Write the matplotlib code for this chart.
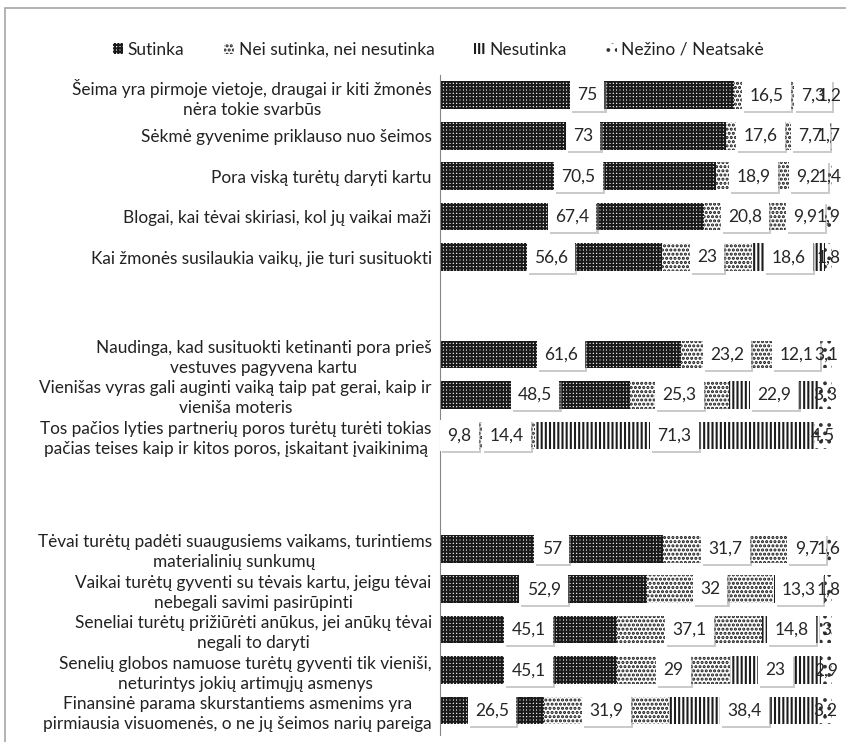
import matplotlib
matplotlib.use('Agg')
import matplotlib.pyplot as plt
import matplotlib.patheffects as pe
from matplotlib.patches import Patch, Rectangle

plt.rcParams['font.family'] = ['Lato', 'DejaVu Sans']
plt.rcParams['hatch.linewidth'] = 1.5

# duomenys (%)
categories = [
    "Šeima yra pirmoje vietoje, draugai ir kiti žmonės\nnėra tokie svarbūs",
    "Sėkmė gyvenime priklauso nuo šeimos",
    "Pora viską turėtų daryti kartu",
    "Blogai, kai tėvai skiriasi, kol jų vaikai maži",
    "Kai žmonės susilaukia vaikų, jie turi susituokti",
    "Naudinga, kad susituokti ketinanti pora prieš\nvestuves pagyvena kartu",
    "Vienišas vyras gali auginti vaiką taip pat gerai, kaip ir\nvieniša moteris",
    "Tos pačios lyties partnerių poros turėtų turėti tokias\npačias teises kaip ir kitos poros, įskaitant įvaikinimą",
    "Tėvai turėtų padėti suaugusiems vaikams, turintiems\nmaterialinių sunkumų",
    "Vaikai turėtų gyventi su tėvais kartu, jeigu tėvai\nnebegali savimi pasirūpinti",
    "Seneliai turėtų prižiūrėti anūkus, jei anūkų tėvai\nnegali to daryti",
    "Senelių globos namuose turėtų gyventi tik vieniši,\nneturintys jokių artimųjų asmenys",
    "Finansinė parama skurstantiems asmenims yra\npirmiausia visuomenės, o ne jų šeimos narių pareiga",
]
group_sizes = [5, 3, 5]

sutinka = [75, 73, 70.5, 67.4, 56.6, 61.6, 48.5, 9.8, 57, 52.9, 45.1, 45.1, 26.5]
nei = [16.5, 17.6, 18.9, 20.8, 23, 23.2, 25.3, 14.4, 31.7, 32, 37.1, 29, 31.9]
nesutinka = [7.3, 7.7, 9.2, 9.9, 18.6, 12.1, 22.9, 71.3, 9.7, 13.3, 14.8, 23, 38.4]
nezino = [1.2, 1.7, 1.4, 1.9, 1.8, 3.1, 3.3, 4.5, 1.6, 1.8, 3, 2.9, 3.2]

series_names = ['Sutinka', 'Nei sutinka, nei nesutinka', 'Nesutinka', 'Nežino / Neatsakė']
series = [sutinka, nei, nesutinka, nezino]
styles = [
    dict(facecolor='white', edgecolor='#1a1a1a', hatch='+++++'),
    dict(facecolor='white', edgecolor='#151515', hatch='....'),
    dict(facecolor='#1c1c1c', edgecolor='white', hatch='||||'),
    dict(facecolor='white', edgecolor='#333333', hatch='..'),
]

# y pozicijos: tarp grupiu tuscias tarpas
gaps = [1.4, 1.8]
ys = []
pos = 0.0
for gi, g in enumerate(group_sizes):
    for i in range(g):
        ys.append(pos)
        pos += 1
    if gi < len(gaps):
        pos += gaps[gi]
last = ys[-1]

fig = plt.figure(figsize=(8.46, 7.42), dpi=100)
fig.add_artist(Rectangle((0.006, -0.01), 1.0, 0.9993, transform=fig.transFigure,
                         fill=False, edgecolor='#a6a6a6', linewidth=1.2))

ax = fig.add_axes([440 / 846, 1 - 735 / 742, 392 / 846, 660 / 742])

left = [0] * len(categories)
for vals, st in zip(series, styles):
    ax.barh(ys, vals, left=left, height=0.68, linewidth=0, **st)
    for y, l, v in zip(ys, left, vals):
        txt = f'{v:g}'.replace('.', ',')
        cx = l + v / 2
        if v >= 5:
            t = ax.text(cx, y, txt, ha='center', va='center', fontsize=12.5, color='#262626',
                        bbox=dict(boxstyle='square,pad=0.42', fc='white', ec='none'), zorder=5)
            t.get_bbox_patch().set_path_effects([
                pe.SimplePatchShadow(offset=(1.5, -1.5), shadow_rgbFace='0.55', alpha=0.45),
                pe.Normal()])
        else:
            ax.text(cx, y, txt, ha='center', va='center', fontsize=12.5, color='#262626', zorder=6)
    left = [a + b for a, b in zip(left, vals)]

ax.set_xlim(0, 100)
ax.set_ylim(last + 0.6, -0.5)
ax.set_yticks(ys, categories, ma='center', fontsize=12.4, color='#222222', linespacing=1.3)
ax.tick_params(axis='y', length=0, pad=6)
ax.set_xticks([])
for s in ['top', 'right', 'bottom']:
    ax.spines[s].set_visible(False)
ax.spines['left'].set_color('#868686')

handles = [Patch(label=n, linewidth=0, **st) for n, st in zip(series_names, styles)]
fig.legend(handles=handles, loc='center', bbox_to_anchor=(0.518, 0.933), ncol=4,
           frameon=False, fontsize=12.5, handlelength=0.6, handleheight=0.6,
           handletextpad=0.25, columnspacing=2.3, labelcolor='#222222')

fig.savefig('out.png', dpi=100)
